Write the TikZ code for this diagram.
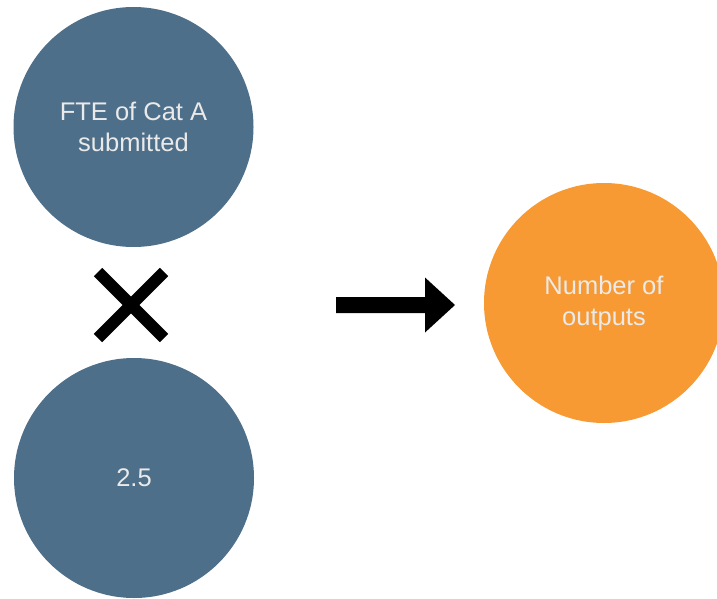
\documentclass[tikz,border=0pt]{standalone}
\usepackage{fontspec}
\setmainfont{Liberation Sans}
\definecolor{slate}{HTML}{4E6F89}
\definecolor{amber}{HTML}{F79A34}
\definecolor{pale}{HTML}{EAEAEA}
\tikzset{
  bubble/.style={circle, minimum size=240pt, inner sep=0pt, text=pale, align=center,
    font=\fontsize{25.5}{31}\selectfont},
  bluebubble/.style={bubble, fill=slate},
  orangebubble/.style={bubble, fill=amber},
  crossline/.style={line width=12pt, black, line cap=butt}
}
\begin{document}
\begin{tikzpicture}[x=1pt,y=-1pt]
\useasboundingbox (0,0) rectangle (717,599);
\node[bluebubble] (top) at (133.5,127) {FTE of Cat A\\submitted};
\node[bluebubble] (bot) at (134,478) {2.5};
\node[orangebubble] (out) at (604,303) {Number of\\outputs};
% multiplication sign
\coordinate (xc) at (131,305);
\draw[crossline] ([shift={(-33,-33)}]xc) -- ([shift={(33,33)}]xc);
\draw[crossline] ([shift={(-33,33)}]xc) -- ([shift={(33,-33)}]xc);
% arrow
\coordinate (as) at (336,305);
\coordinate (ae) at (455,305);
\fill[black] ([shift={(0,-8)}]as) -- ([shift={(-30,-8)}]ae) -- ([shift={(-30,-27.5)}]ae) -- (ae)
  -- ([shift={(-30,27.5)}]ae) -- ([shift={(-30,8)}]ae) -- ([shift={(0,8)}]as) -- cycle;
\end{tikzpicture}
\end{document}
